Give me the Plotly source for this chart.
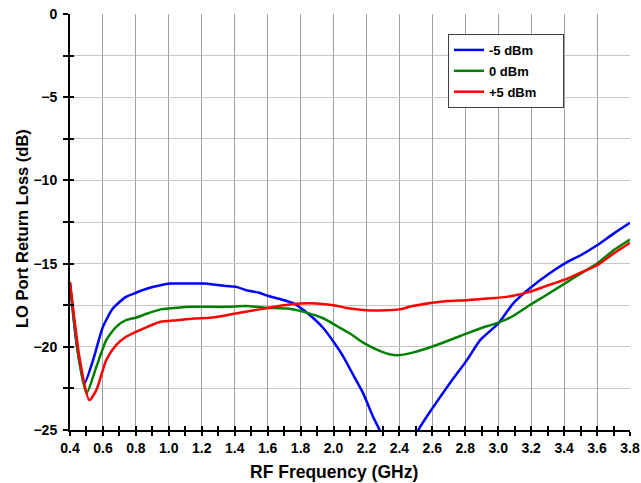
import plotly.graph_objects as go

# LO port return loss vs RF frequency, three LO drive levels
freq_m5 = [0.40, 0.44, 0.487, 0.54, 0.60, 0.66, 0.74, 0.80, 0.87, 0.95, 1.01, 1.09, 1.21, 1.27,
           1.35, 1.41, 1.47, 1.55, 1.59, 1.70, 1.76, 1.82, 1.88, 1.94, 2.00, 2.06, 2.12, 2.18,
           2.24, 2.28, 2.40, 2.515, 2.72, 2.81, 2.89, 3.00, 3.09, 3.19, 3.31, 3.42, 3.50,
           3.60, 3.70, 3.80]
rl_m5 = [-16.2, -19.8, -22.2, -20.8, -18.8, -17.7, -17.0, -16.75, -16.5, -16.3, -16.2, -16.2,
         -16.2, -16.25, -16.35, -16.4, -16.6, -16.75, -16.9, -17.2, -17.4, -17.8, -18.3, -18.9,
         -19.7, -20.6, -21.7, -22.8, -24.2, -25.0, -27.5, -25.0, -22.0, -20.8, -19.6, -18.6,
         -17.4, -16.5, -15.6, -14.9, -14.5, -13.9, -13.2, -12.55]

freq_0 = [0.40, 0.45, 0.50, 0.56, 0.62, 0.68, 0.74, 0.80, 0.87, 0.95, 1.05, 1.15, 1.35, 1.47,
          1.59, 1.72, 1.82, 1.94, 2.02, 2.10, 2.18, 2.28, 2.34, 2.40, 2.48, 2.61, 2.77, 2.89,
          3.00, 3.09, 3.19, 3.29, 3.42, 3.50, 3.60, 3.70, 3.80]
rl_0 = [-16.2, -20.5, -22.8, -21.2, -19.6, -18.8, -18.4, -18.25, -18.0, -17.75, -17.65, -17.6,
        -17.6, -17.55, -17.65, -17.7, -17.9, -18.3, -18.75, -19.2, -19.75, -20.25, -20.45, -20.5,
        -20.35, -19.95, -19.35, -18.9, -18.55, -18.15, -17.5, -16.9, -16.1, -15.6, -15.0,
        -14.2, -13.55]

freq_p5 = [0.40, 0.46, 0.517, 0.56, 0.62, 0.68, 0.74, 0.80, 0.87, 0.95, 1.05, 1.15, 1.25, 1.35,
           1.43, 1.55, 1.70, 1.80, 1.90, 2.00, 2.10, 2.20, 2.32, 2.40, 2.48, 2.69, 2.81, 2.93,
           3.05, 3.19, 3.29, 3.42, 3.50, 3.60, 3.70, 3.80]
rl_p5 = [-16.1, -20.8, -23.2, -22.6, -20.8, -19.9, -19.4, -19.1, -18.8, -18.5, -18.4, -18.3,
         -18.25, -18.1, -17.95, -17.75, -17.5, -17.4, -17.4, -17.5, -17.7, -17.8, -17.8, -17.75,
         -17.55, -17.25, -17.2, -17.1, -17.0, -16.7, -16.35, -15.9, -15.55, -15.1, -14.4, -13.75]

series = [
    ("-5 dBm", freq_m5, rl_m5, "#0000ff"),
    ("0 dBm", freq_0, rl_0, "#008000"),
    ("+5 dBm", freq_p5, rl_p5, "#ff0000"),
]

font_family = "Liberation Sans, Arial, sans-serif"
pad = "\u00a0" * 6  # widens the legend box to the original's size

fig = go.Figure()
for name, x, y, color in series:
    fig.add_trace(go.Scatter(
        x=x, y=y, name=name + pad, mode="lines", legendgroup=name,
        line=dict(color=color, width=2.5, shape="spline", smoothing=0.6),
    ))

# invisible trace carrying a second axis pair, used for inward tick marks
fig.add_trace(go.Scatter(x=[0.4], y=[-25], xaxis="x2", yaxis="y2",
                         showlegend=False, hoverinfo="skip",
                         mode="markers", marker=dict(opacity=0)))

tick_font = dict(family=font_family, size=14, color="black", weight="bold")
title_font = dict(family=font_family, color="black", weight="bold")

fig.update_layout(
    width=641, height=483,
    margin=dict(l=70, r=11, t=14, b=53),
    paper_bgcolor="white",
    plot_bgcolor="white",
    font=dict(family=font_family, color="black"),
    xaxis=dict(
        range=[0.4, 3.8], dtick=0.2, tick0=0.4, tickformat=".1f", automargin=False,
        ticklabeloverflow="allow",
        showgrid=True, gridcolor="#a0a0a0", gridwidth=1,
        showline=True, linecolor="black", linewidth=2,
        ticks="outside", ticklen=4, tickwidth=1.5, tickcolor="black",
        minor=dict(dtick=0.1, ticks="outside", ticklen=4, tickwidth=1.5,
                   tickcolor="black", showgrid=False),
        tickfont=tick_font, zeroline=False,
    ),
    yaxis=dict(
        range=[-25, 0], dtick=5, automargin=False, ticklabeloverflow="allow",
        showgrid=True, gridcolor="#c8c8c8", gridwidth=1,
        showline=True, linecolor="black", linewidth=2,
        ticks="outside", ticklen=5, tickwidth=1.5, tickcolor="black",
        minor=dict(dtick=2.5, ticks="outside", ticklen=5, tickwidth=1.5,
                   tickcolor="black", showgrid=True, gridcolor="#c8c8c8"),
        tickfont=tick_font, zeroline=False, ticklabelstandoff=3,
    ),
    xaxis2=dict(
        overlaying="x", matches="x", range=[0.4, 3.8], anchor="y2", side="bottom",
        dtick=0.1, tick0=0.4, ticks="inside", ticklen=4, tickwidth=1.5, tickcolor="black",
        showticklabels=False, showgrid=False, showline=False, zeroline=False,
        automargin=False,
    ),
    yaxis2=dict(
        overlaying="y", matches="y", range=[-25, 0], anchor="x2", side="left",
        dtick=2.5, ticks="inside", ticklen=4, tickwidth=1.5, tickcolor="black",
        showticklabels=False, showgrid=False, showline=False, zeroline=False,
        automargin=False,
    ),
    legend=dict(
        x=0.675, y=0.952, xanchor="left", yanchor="top",
        bgcolor="white", bordercolor="#404040", borderwidth=1,
        font=dict(family=font_family, size=13, color="black", weight="bold"),
        itemwidth=30, tracegroupgap=1,
    ),
    annotations=[
        dict(text="RF Frequency (GHz)", xref="paper", yref="paper",
             x=0.471, y=-0.101, xanchor="center", yanchor="middle",
             showarrow=False, font=dict(size=17.5, **title_font)),
        dict(text="LO Port Return Loss (dB)", xref="paper", yref="paper",
             x=-0.0857, y=0.483, xanchor="center", yanchor="middle", textangle=-90,
             showarrow=False, font=dict(size=16.5, **title_font)),
    ],
)

# drop the browser's default body margin so the figure sits at the window corner
fig.write_html("out.html", config={"displayModeBar": False},
               post_script="document.body.style.margin = '0';")
